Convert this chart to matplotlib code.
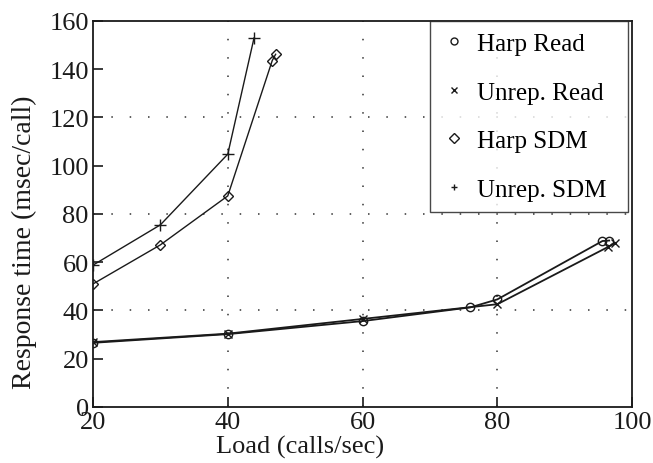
import matplotlib.pyplot as plt

plt.rcParams['font.family'] = ['Liberation Serif', 'DejaVu Serif']

# ---------- data ----------
harp_read_x = [20, 40, 60, 76, 80, 95.6, 96.6]
harp_read_y = [26.6, 30.2, 35.6, 41.3, 44.6, 68.8, 69.0]

unrep_read_x = [20, 40, 60, 80, 96.4, 97.5]
unrep_read_y = [26.9, 30.4, 36.5, 42.6, 66.3, 68.0]

harp_sdm_x = [20, 30, 40, 46.6, 47.1]
harp_sdm_y = [51.0, 67.2, 87.5, 143.6, 146.2]

unrep_sdm_x = [20, 30, 40, 43.9]
unrep_sdm_y = [58.8, 75.5, 104.8, 153.0]

x_ticks = [20, 40, 60, 80, 100]
y_ticks = [0, 20, 40, 60, 80, 100, 120, 140, 160]
x_grid = [40, 60, 80]
y_grid = [40, 80, 120]

# ---------- plot ----------
fig = plt.figure(figsize=(6.53, 4.64), dpi=100)
ax = fig.add_axes([0.1424, 0.1207, 0.8256, 0.8319])

grid_style = dict(color='#333333', linewidth=1.1, linestyle=(0, (1, 11)), zorder=0)
for gx in x_grid:
    ax.axvline(gx, **grid_style)
for gy in y_grid:
    ax.axhline(gy, **grid_style)

ln = dict(color='#1a1a1a', linewidth=1.3, markersize=6, markeredgewidth=1.0)
ax.plot(harp_read_x, harp_read_y, marker='o', markerfacecolor='none', label='Harp Read', **ln)
ax.plot(unrep_read_x, unrep_read_y, marker='x', label='Unrep. Read', **ln)
ax.plot(harp_sdm_x, harp_sdm_y, marker='D', markerfacecolor='none', label='Harp SDM',
        color='#1a1a1a', linewidth=1.0, markersize=5, markeredgewidth=1.0)
ax.plot(unrep_sdm_x, unrep_sdm_y, marker='+', label='Unrep. SDM',
        color='#1a1a1a', linewidth=1.0, markersize=8, markeredgewidth=1.0)

ax.set_xlim(20, 100)
ax.set_ylim(0, 160)
ax.set_xticks(x_ticks)
ax.set_yticks(y_ticks)
ax.tick_params(direction='in', length=7, width=1.2, labelsize=19, colors='#1a1a1a')
ax.tick_params(axis='y', pad=3)
ax.tick_params(axis='x', pad=3)
for s in ax.spines.values():
    s.set_linewidth(1.3)
    s.set_color('#1a1a1a')

ax.set_xlabel('Load (calls/sec)', fontsize=19, color='#1a1a1a')
ax.set_ylabel('Response time (msec/call)', fontsize=20, color='#1a1a1a')
ax.xaxis.set_label_coords(0.384, -0.072)
ax.yaxis.set_label_coords(-0.103, 0.43)

# legend box spans a fixed width, text left-aligned inside
leg = ax.legend(loc='upper left', bbox_to_anchor=(0.625, 0.0, 0.3674, 1.0), mode='expand',
                fontsize=18, frameon=True, fancybox=False, edgecolor='#1a1a1a',
                labelspacing=1.04, handlelength=1.0, handletextpad=0.4,
                borderpad=0.47, borderaxespad=0)
leg.get_frame().set_linewidth(1.0)
for h in leg.legend_handles:
    h.set_linestyle('none')
    h.set_markersize(5)

fig.savefig('out.png', dpi=100)
